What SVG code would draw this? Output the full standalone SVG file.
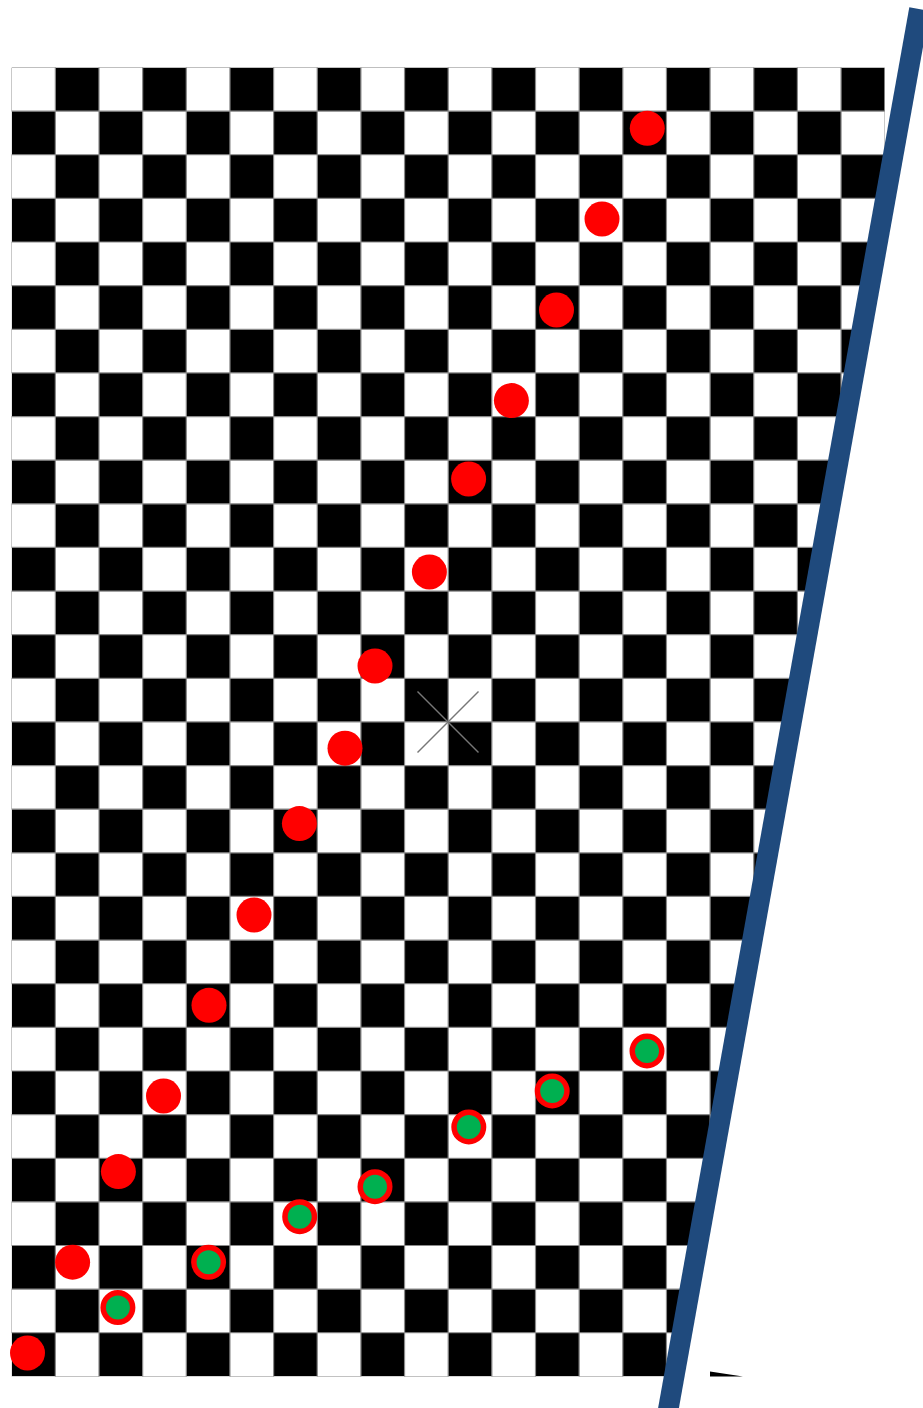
<svg xmlns="http://www.w3.org/2000/svg" width="923" height="1408" viewBox="0 0 923 1408">
<style>
.red{fill:#FF0000}
.grn{fill:#00B050;stroke:#FF0000;stroke-width:5.5}
.grid{stroke:#8a8a8a;stroke-width:1.2;fill:none}
.xm{stroke:#777;stroke-width:1.5}
</style>
<defs>
<pattern id="chk" patternUnits="userSpaceOnUse" x="11.7" y="67.5" width="87.3" height="87.26">
<rect x="43.65" y="0" width="43.65" height="43.63" fill="#000"/>
<rect x="0" y="43.63" width="43.65" height="43.63" fill="#000"/>
</pattern>
<clipPath id="leftSide"><polygon points="0,0 911.4,0 659,1408 0,1408"/></clipPath>
</defs>
<rect width="923" height="1408" fill="#fff"/>
<g id="board" clip-path="url(#leftSide)">
<rect x="11.7" y="67.5" width="873" height="1308.9" fill="url(#chk)"/>
<path class="grid" d="M55.35 67.5V1376.4M99 67.5V1376.4M142.65 67.5V1376.4M186.3 67.5V1376.4M229.95 67.5V1376.4M273.6 67.5V1376.4M317.25 67.5V1376.4M360.9 67.5V1376.4M404.55 67.5V1376.4M448.2 67.5V1376.4M491.85 67.5V1376.4M535.5 67.5V1376.4M579.15 67.5V1376.4M622.8 67.5V1376.4M666.45 67.5V1376.4M710.1 67.5V1376.4M753.75 67.5V1376.4M797.4 67.5V1376.4M841.05 67.5V1376.4
M11.7 111.13H884.7M11.7 154.76H884.7M11.7 198.39H884.7M11.7 242.02H884.7M11.7 285.65H884.7M11.7 329.28H884.7M11.7 372.91H884.7M11.7 416.54H884.7M11.7 460.17H884.7M11.7 503.8H884.7M11.7 547.43H884.7M11.7 591.06H884.7M11.7 634.69H884.7M11.7 678.32H884.7M11.7 721.95H884.7M11.7 765.58H884.7M11.7 809.21H884.7M11.7 852.84H884.7M11.7 896.47H884.7M11.7 940.1H884.7M11.7 983.73H884.7M11.7 1027.36H884.7M11.7 1070.99H884.7M11.7 1114.62H884.7M11.7 1158.25H884.7M11.7 1201.88H884.7M11.7 1245.51H884.7M11.7 1289.14H884.7M11.7 1332.77H884.7"/>
</g>
<polygon id="sliver" points="710,1371.5 743,1376.4 710,1376.4" fill="#000"/>
<g id="connectors">
<line id="divider" x1="919.4" y1="9.1" x2="666" y2="1422" stroke="#1F4A7D" stroke-width="20.5" stroke-linecap="butt"/>
</g>
<g id="xmark" class="xm">
<line x1="417.5" y1="691.5" x2="478.5" y2="752.5"/>
<line x1="417.5" y1="752.5" x2="478.5" y2="691.5"/>
</g>
<g id="red-dots" class="red">
<g id="r1"><circle cx="647.3" cy="128.3" r="17.5"/></g>
<g id="r2"><circle cx="602" cy="219" r="17.5"/></g>
<g id="r3"><circle cx="556.5" cy="310" r="17.5"/></g>
<g id="r4"><circle cx="511.4" cy="400.6" r="17.5"/></g>
<g id="r5"><circle cx="468.6" cy="479" r="17.5"/></g>
<g id="r6"><circle cx="429.4" cy="572" r="17.5"/></g>
<g id="r7"><circle cx="375" cy="666" r="17.5"/></g>
<g id="r8"><circle cx="345" cy="748.2" r="17.5"/></g>
<g id="r9"><circle cx="299.4" cy="823.6" r="17.5"/></g>
<g id="r10"><circle cx="254" cy="915" r="17.5"/></g>
<g id="r11"><circle cx="209" cy="1005.3" r="17.5"/></g>
<g id="r12"><circle cx="163.5" cy="1096" r="17.5"/></g>
<g id="r13"><circle cx="118.4" cy="1171.6" r="17.5"/></g>
<g id="r14"><circle cx="72.6" cy="1262.2" r="17.5"/></g>
<g id="r15"><circle cx="27.5" cy="1353" r="17.5"/></g>
</g>
<g id="green-dots">
<g id="g1"><circle class="grn" cx="647" cy="1051" r="14.75"/></g>
<g id="g2"><circle class="grn" cx="552.2" cy="1091" r="14.75"/></g>
<g id="g3"><circle class="grn" cx="468.8" cy="1127" r="14.75"/></g>
<g id="g4"><circle class="grn" cx="375" cy="1186.7" r="14.75"/></g>
<g id="g5"><circle class="grn" cx="299.7" cy="1216.7" r="14.75"/></g>
<g id="g6"><circle class="grn" cx="208.6" cy="1262.3" r="14.75"/></g>
<g id="g7"><circle class="grn" cx="117.9" cy="1307.6" r="14.75"/></g>
</g>
</svg>
